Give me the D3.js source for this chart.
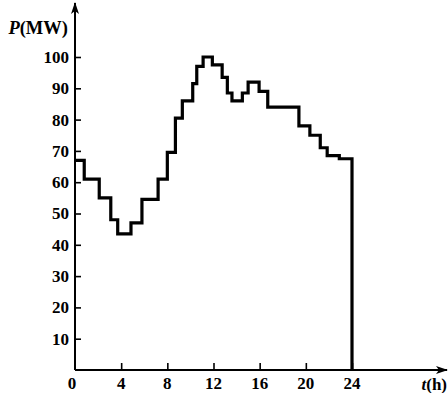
<!DOCTYPE html>
<html>
<head>
<meta charset="utf-8">
<script src="https://cdn.jsdelivr.net/npm/d3@7"></script>
<style>
  body { margin: 0; background: #fff; }
  text { font-family: "Liberation Serif", "DejaVu Serif", serif; }
</style>
</head>
<body>
<div id="chart"></div>
<script>
// step start times (h) and load (MW)
const hours = [0, 0.8, 2.1, 3.1, 3.7, 4.85, 5.8, 7.2, 8, 8.7, 9.3, 10.2, 10.55, 11.1, 11.9, 12.75, 13.2, 13.6, 14.5, 15, 15.95, 16.7, 19.4, 20.35, 21.25, 21.85, 22.9];
const loadMW = [67, 61, 55, 48, 43.5, 47, 54.5, 61, 69.5, 80.5, 86, 91.5, 97, 100, 97.5, 93.5, 88.5, 86, 88.5, 92, 89, 84, 78, 75, 71, 68.5, 67.5];
const endHour = 24;
const xTicks = [0, 4, 8, 12, 16, 20, 24];
const yTicks = [10, 20, 30, 40, 50, 60, 70, 80, 90, 100];

const width = 448, height = 393;
const margin = { left: 75, bottom: 23, top: 57 };

const svg = d3.select('#chart').append('svg')
  .attr('width', width).attr('height', height);

const x = d3.scaleLinear([0, 24], [margin.left, 352]);
const y = d3.scaleLinear([0, 100], [height - margin.bottom, margin.top]);

// axes lines with arrows
svg.append('defs').append('marker')
  .attr('id', 'arrow')
  .attr('viewBox', '0 0 12 8')
  .attr('refX', 11).attr('refY', 4)
  .attr('markerWidth', 12).attr('markerHeight', 8)
  .attr('markerUnits', 'userSpaceOnUse')
  .attr('orient', 'auto')
  .append('path').attr('d', 'M0,0L12,4L0,8L3,4Z').attr('fill', '#000');

svg.append('line')
  .attr('x1', x(0)).attr('x2', x(0))
  .attr('y1', y(0)).attr('y2', 3)
  .attr('stroke', '#000').attr('stroke-width', 2)
  .attr('marker-end', 'url(#arrow)');
svg.append('line')
  .attr('x1', x(0)).attr('x2', width - 1)
  .attr('y1', y(0)).attr('y2', y(0))
  .attr('stroke', '#000').attr('stroke-width', 2)
  .attr('marker-end', 'url(#arrow)');

// y ticks
const yAxis = d3.axisRight(y).tickValues(yTicks).tickSize(6).tickFormat('');
svg.append('g').attr('transform', `translate(${x(0)},0)`).call(yAxis)
  .call(g => g.select('.domain').remove())
  .call(g => g.selectAll('.tick line').attr('stroke-width', 1.6));
svg.append('g').selectAll('text').data(yTicks).join('text')
  .attr('x', x(0) - 6).attr('y', d => y(d)).attr('dy', '0.35em')
  .attr('text-anchor', 'end')
  .attr('font-size', 17).attr('font-weight', 'bold')
  .text(d => d);

// x ticks
const xAxis = d3.axisTop(x).tickValues(xTicks.slice(1)).tickSize(7).tickFormat('');
svg.append('g').attr('transform', `translate(0,${y(0)})`).call(xAxis)
  .call(g => g.select('.domain').remove())
  .call(g => g.selectAll('.tick line').attr('stroke-width', 1.6));
svg.append('g').selectAll('text').data(xTicks).join('text')
  .attr('x', d => x(d) - (d === 0 ? 3 : 0)).attr('y', 389)
  .attr('text-anchor', 'middle')
  .attr('font-size', 17).attr('font-weight', 'bold')
  .text(d => d);

// axis titles
const pLabel = svg.append('text').attr('x', 68).attr('y', 34)
  .attr('text-anchor', 'end').attr('font-size', 18.5).attr('font-weight', 'bold');
pLabel.append('tspan').attr('font-style', 'italic').text('P');
pLabel.append('tspan').text('(MW)');

const tLabel = svg.append('text').attr('x', 447).attr('y', 390)
  .attr('text-anchor', 'end').attr('font-size', 17).attr('font-weight', 'bold');
tLabel.append('tspan').attr('font-style', 'italic').text('t');
tLabel.append('tspan').text('(h)');

// load step curve
const pts = hours.map((h, i) => [h, loadMW[i]]);
pts.push([endHour, loadMW[loadMW.length - 1]]);
const line = d3.line().x(d => x(d[0])).y(d => y(d[1])).curve(d3.curveStepAfter);
svg.append('path')
  .attr('d', line(pts) + `L${x(endHour)},${y(0)}`)
  .attr('fill', 'none').attr('stroke', '#000')
  .attr('stroke-width', 3.2).attr('stroke-linejoin', 'miter');
</script>
</body>
</html>
